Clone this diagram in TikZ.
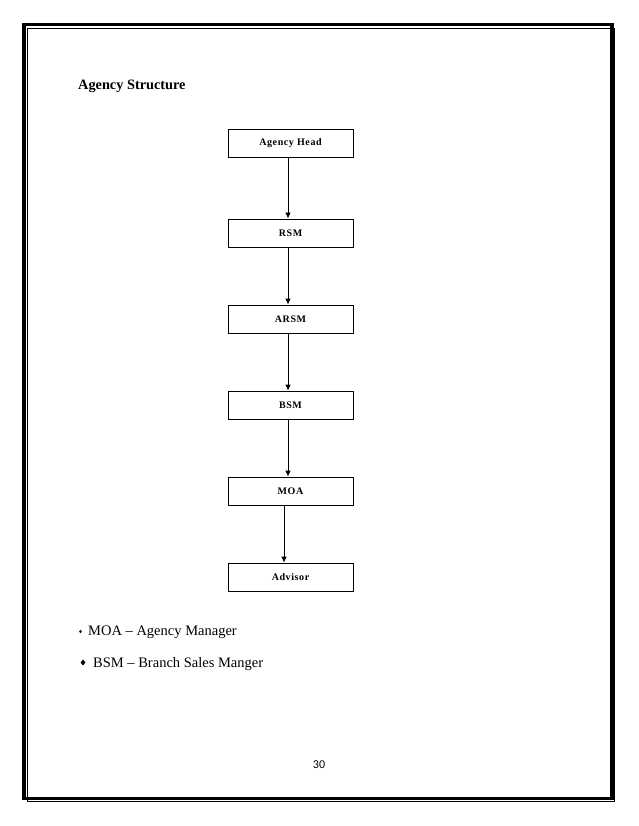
\documentclass[tikz,border=0pt]{standalone}
\usepackage{fontspec}
\setmainfont{Liberation Serif}
\newfontfamily\boxfont[LetterSpace=6]{Liberation Serif}
\newfontfamily\numfont{Carlito}
\usetikzlibrary{arrows.meta,shapes.geometric}
\tikzset{
  orgbox/.style={draw, line width=0.8pt, minimum width=125pt, minimum height=28pt, inner sep=0pt,
    font=\boxfont\fontsize{10}{12}\selectfont\bfseries},
  link/.style={line width=0.8pt, -{Latex[length=6pt,width=5.5pt]}},
  bul/.style={diamond, fill=black, inner sep=0pt, aspect=0.8},
  note/.style={anchor=base west, inner sep=0pt, font=\fontsize{14.5}{17}\selectfont},
}
\begin{document}
\begin{tikzpicture}[x=1pt,y=-1pt]
\useasboundingbox (0,0) rectangle (638,826);
% page border
\draw[line width=3.5pt] (24,24.5) rectangle (612,798.5);
\draw[line width=0.8pt] (27.5,28) rectangle (614.5,801.5);
% title
\node[anchor=base west, inner sep=0pt, font=\fontsize{14.3}{16}\selectfont\bfseries] (title) at (78,90) {Agency Structure};
% boxes
\node[orgbox] (ah)  at (290.5,143) {Agency Head};
\node[orgbox] (rsm) at (290.5,233) {RSM};
\node[orgbox] (arsm) at (290.5,319) {ARSM};
\node[orgbox] (bsm) at (290.5,405) {BSM};
\node[orgbox] (moa) at (290.5,491) {MOA};
\node[orgbox] (adv) at (290.5,577) {Advisor};
% connectors
\draw[link] ([xshift=-2.5pt]ah.south) -- ([xshift=-2.5pt]rsm.north);
\draw[link] ([xshift=-2.5pt]rsm.south) -- ([xshift=-2.5pt]arsm.north);
\draw[link] ([xshift=-2.5pt]arsm.south) -- ([xshift=-2.5pt]bsm.north);
\draw[link] ([xshift=-2.5pt]bsm.south) -- ([xshift=-2.5pt]moa.north);
\draw[link] ([xshift=-6.5pt]moa.south) -- ([xshift=-6.5pt]adv.north);
% notes
\node[bul, minimum width=3pt, minimum height=3.5pt] (b1) at (80.5,631.5) {};
\node[note] (n1) at (88,635) {MOA -- Agency Manager};
\node[bul, minimum width=5pt, minimum height=6pt] (b2) at (83,662.5) {};
\node[note] (n2) at (93,667) {BSM -- Branch Sales Manger};
% page number
\node[inner sep=0pt, font=\numfont\fontsize{12}{14}\selectfont] (pg) at (319,765) {30};
\end{tikzpicture}
\end{document}
